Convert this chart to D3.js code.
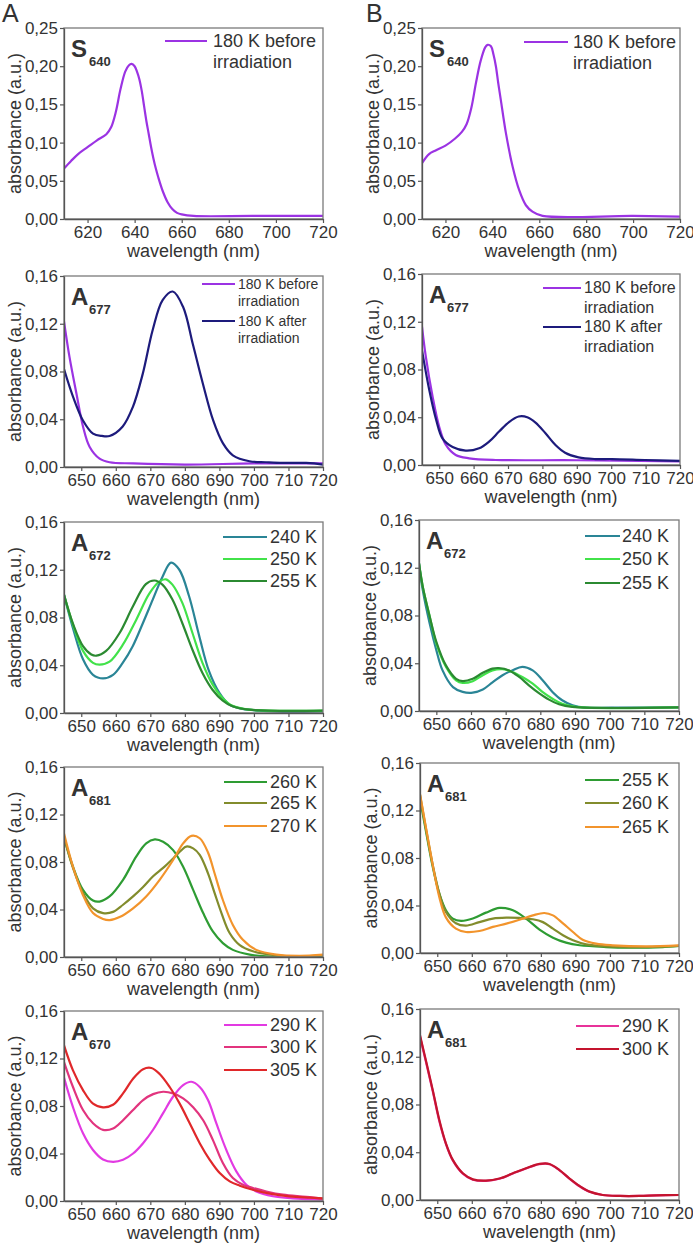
<!DOCTYPE html>
<html><head><meta charset="utf-8">
<script src="https://cdn.jsdelivr.net/npm/d3@7"></script>
<style>
body{margin:0;background:#fff}
svg{display:block}
text{font-family:"Liberation Sans",Arial,Helvetica,sans-serif;fill:#333}
</style>
</head><body>
<svg id="c" width="693" height="1247"></svg>
<script>
// ---------- tick values ----------
const xTicksRow1 = [620, 640, 660, 680, 700, 720];
const xTicksRest = [650, 660, 670, 680, 690, 700, 710, 720];
const yTicksRow1 = [0, 0.05, 0.10, 0.15, 0.20, 0.25];
const yTicksRest = [0, 0.04, 0.08, 0.12, 0.16];

// ---------- data: [wavelength nm, absorbance] ----------
// Column A
const A1_before = [[610,0.066],[613,0.076],[616,0.085],[620,0.094],[624,0.103],[628,0.111],[630,0.120],[632,0.140],[634,0.170],[636,0.193],[637.5,0.201],[638.7,0.203],[640,0.200],[641,0.193],[642,0.183],[643,0.168],[644,0.148],[645,0.128],[646,0.111],[647,0.094],[648,0.079],[649,0.066],[650,0.055],[652,0.036],[654,0.022],[656,0.013],[658,0.008],[660,0.006],[665,0.004],[690,0.004],[720,0.004]];
const A2_before = [[645,0.122],[646.6,0.092],[648.6,0.0615],[650.5,0.034],[652.4,0.017],[655.3,0.007],[658.2,0.004],[665,0.003],[680,0.002],[700,0.003],[720,0.003]];
const A2_after = [[645,0.082],[647.6,0.059],[650.5,0.039],[653.4,0.028],[656,0.026],[658.2,0.026],[662,0.034],[664.9,0.050],[667.8,0.078],[670.7,0.115],[673.6,0.140],[676.5,0.147],[679.5,0.134],[682.3,0.103],[685.2,0.070],[688.2,0.039],[691,0.020],[693.9,0.0098],[698.7,0.0048],[703.5,0.004],[708.4,0.0034],[715.1,0.0034],[720,0.002]];
const A3_240 = [[645,0.099],[647.7,0.070],[650.5,0.045],[653.4,0.032],[656.3,0.029],[659.2,0.032],[662,0.042],[664.9,0.056],[667.8,0.075],[670.7,0.095],[673.5,0.114],[676,0.126],[678.4,0.120],[681.2,0.098],[684.2,0.064],[687,0.035],[690,0.0168],[692.9,0.007],[696.7,0.0034],[701.5,0.002],[708.3,0.001],[720,0.0014]];
const A3_250 = [[645,0.099],[647.7,0.073],[650.5,0.052],[653.4,0.042],[655.3,0.0405],[658.2,0.043],[662,0.057],[665.9,0.078],[669.7,0.100],[672.6,0.110],[674.5,0.112],[676.4,0.1075],[679.3,0.092],[682.2,0.067],[685.1,0.042],[688,0.024],[690.9,0.0126],[693.8,0.006],[698.6,0.0028],[720,0.002]];
const A3_255 = [[645,0.099],[647.7,0.074],[650.5,0.056],[652.9,0.049],[654.4,0.048],[657.2,0.052],[661.1,0.067],[664.9,0.089],[668.7,0.108],[671.2,0.111],[673.5,0.1075],[676.4,0.095],[679.3,0.075],[682.2,0.053],[685.1,0.0335],[688,0.0195],[690.9,0.0106],[693.8,0.0056],[698.6,0.0028],[720,0.002]];
const A4_260 = [[645,0.101],[647.6,0.076],[650.5,0.0565],[653.4,0.0475],[655.3,0.0467],[658.2,0.051],[662.1,0.065],[665.9,0.0845],[668.8,0.0957],[671.3,0.099],[673.7,0.097],[676.6,0.090],[679.5,0.076],[682.4,0.0565],[685.3,0.037],[688.1,0.0215],[691,0.0117],[693.9,0.006],[698.8,0.002],[703.6,0.0006],[713.2,0.0002],[720,0.001]];
const A4_265 = [[645,0.101],[647.6,0.075],[650.5,0.054],[653.4,0.041],[656.3,0.037],[659.2,0.038],[662.1,0.044],[665,0.051],[667.9,0.059],[670.8,0.068],[673.7,0.075],[676.6,0.083],[679,0.090],[680.4,0.093],[682.4,0.0915],[684.3,0.086],[686.7,0.0705],[688.6,0.054],[690.6,0.037],[693,0.020],[695.9,0.010],[699.7,0.0048],[705.5,0.0017],[713.2,0.0006],[720,0.0014]];
const A4_270 = [[645,0.104],[647.6,0.076],[650.5,0.052],[653.4,0.037],[656.3,0.032],[658.2,0.031],[661.1,0.0336],[665,0.041],[668.8,0.051],[672.7,0.065],[676.6,0.0817],[679.5,0.0957],[681.9,0.102],[684.3,0.100],[686.7,0.088],[688.6,0.0705],[691,0.048],[693.9,0.027],[696.8,0.0145],[700.7,0.006],[706.5,0.002],[713.2,0.001],[720,0.002]];
const A5_290 = [[645,0.104],[647.6,0.079],[650.5,0.057],[653.4,0.043],[656.3,0.035],[659.2,0.033],[662.1,0.0347],[665,0.040],[667.9,0.0487],[670.8,0.060],[673.7,0.074],[676.6,0.088],[679.5,0.0976],[681.9,0.1004],[684.3,0.096],[686.7,0.085],[689.1,0.0655],[692,0.043],[694.9,0.025],[697.8,0.0137],[700.7,0.008],[705.5,0.004],[711.3,0.0022],[720,0.0011]];
const A5_300 = [[645,0.117],[647.6,0.096],[650.5,0.0766],[653.4,0.0655],[656.3,0.0599],[659.2,0.061],[662.1,0.068],[665,0.0766],[667.9,0.085],[670.8,0.090],[673.7,0.092],[676.6,0.0906],[679.5,0.0864],[682.4,0.079],[685.3,0.068],[688.1,0.0515],[691,0.032],[693.9,0.0193],[696.8,0.0137],[699.7,0.011],[703.6,0.008],[708.4,0.0053],[715.2,0.0034],[720,0.0017]];
const A5_305 = [[645,0.131],[647.6,0.110],[650.5,0.0934],[653.4,0.082],[656.3,0.0789],[659.2,0.081],[662.1,0.0906],[665,0.103],[667.9,0.111],[670.3,0.112],[672.7,0.107],[675.6,0.096],[678.5,0.082],[681.4,0.0655],[684.3,0.0487],[687.2,0.0347],[690.1,0.0235],[693,0.0165],[695.9,0.0129],[699.7,0.0095],[704.6,0.0062],[710.3,0.0039],[716.1,0.0028],[720,0.0022]];
// Column B
const B1_before = [[610,0.073],[613,0.085],[616,0.090],[620,0.096],[624,0.105],[627,0.114],[629,0.124],[631,0.145],[633,0.178],[635,0.207],[637,0.225],[638,0.228],[639.4,0.226],[640.5,0.215],[641.5,0.200],[642.5,0.178],[643.6,0.156],[645.8,0.112],[648.6,0.069],[651.4,0.038],[654.3,0.018],[657.1,0.0096],[661.4,0.004],[700,0.004],[720,0.003]];
const B2_before = [[645,0.116],[646.1,0.091],[648.1,0.057],[650,0.032],[651.9,0.017],[654.8,0.0084],[658.7,0.0056],[666.4,0.0042],[690,0.004],[720,0.003]];
const B2_after = [[645,0.096],[647.1,0.063],[649.1,0.038],[651,0.022],[653.9,0.015],[657.7,0.012],[661.6,0.014],[664.5,0.0196],[667.4,0.028],[670.3,0.036],[673.1,0.0406],[675.6,0.040],[678,0.0355],[680.9,0.0266],[683.8,0.0168],[686.6,0.0103],[690.5,0.0064],[695.3,0.005],[700.2,0.005],[709.8,0.0042],[720,0.0034]];
const B3_240 = [[645,0.1236],[646.1,0.101],[648.1,0.073],[650,0.051],[651.8,0.034],[654.8,0.020],[657.6,0.016],[660.5,0.0154],[663.4,0.018],[666.2,0.024],[669.1,0.030],[671.9,0.034],[674.8,0.037],[677.8,0.034],[680.6,0.026],[683.5,0.016],[686.3,0.009],[689.3,0.0048],[693.2,0.0028],[700.6,0.0028],[720,0.003]];
const B3_250 = [[645,0.1236],[646.1,0.104],[648.1,0.079],[650,0.0565],[652.8,0.037],[655.7,0.0257],[657.6,0.0235],[660.5,0.025],[663.4,0.030],[666.2,0.034],[669.1,0.035],[671.9,0.0327],[674.8,0.0285],[677.8,0.023],[680.6,0.016],[683.5,0.0103],[686.3,0.006],[690.2,0.0034],[720,0.003]];
const B3_255 = [[645,0.1236],[646.1,0.104],[648.1,0.079],[650,0.058],[652.8,0.038],[655.7,0.027],[657.6,0.025],[660.5,0.027],[663.4,0.032],[666.2,0.0355],[668,0.036],[671,0.034],[673.9,0.0285],[676.7,0.0215],[679.6,0.015],[682.5,0.0095],[685.4,0.0056],[689.2,0.0034],[720,0.003]];
const B4_255 = [[645,0.130],[646.7,0.103],[648.7,0.0724],[650.6,0.050],[652.5,0.036],[654.5,0.029],[656.9,0.027],[660.3,0.029],[664.1,0.034],[668,0.038],[671.9,0.036],[675.7,0.029],[679.6,0.0197],[683.5,0.0129],[687.3,0.0087],[691.2,0.0065],[698.9,0.005],[705.7,0.0045],[715.3,0.005],[720,0.006]];
const B4_260 = [[645,0.133],[646.7,0.105],[648.7,0.074],[650.6,0.050],[652.5,0.0345],[655.4,0.025],[658.3,0.023],[662.2,0.026],[666.1,0.029],[670,0.0298],[673.8,0.0295],[677.7,0.0284],[680.6,0.026],[683.5,0.0205],[686.4,0.015],[689.3,0.0107],[693.1,0.0073],[698.9,0.0056],[710.5,0.005],[720,0.006]];
const B4_265 = [[645,0.134],[646.7,0.106],[648.7,0.074],[650.6,0.047],[652.5,0.030],[655.4,0.0205],[658.3,0.0177],[662.2,0.0185],[666.1,0.022],[670,0.0247],[673.8,0.028],[677.7,0.0317],[681,0.0337],[683.5,0.0317],[686.4,0.025],[689.3,0.0177],[692.1,0.0112],[696,0.0079],[700.8,0.0065],[710.5,0.0056],[720,0.0065]];
const B5_290 = [[645,0.137],[646.7,0.116],[648.7,0.091],[650.6,0.066],[652.5,0.047],[654.5,0.0332],[657.4,0.0221],[660.3,0.0170],[664.1,0.0160],[668,0.0178],[671.9,0.0222],[675.7,0.0264],[679.6,0.0300],[682.5,0.0300],[685.4,0.0248],[688.3,0.0178],[691.2,0.0115],[694.1,0.0069],[697.9,0.0042],[702.8,0.0034],[708.6,0.0034],[713.4,0.0039],[720,0.0042]];
const B5_300 = [[645,0.138],[646.7,0.117],[648.7,0.092],[650.6,0.067],[652.5,0.0475],[654.5,0.0336],[657.4,0.0224],[660.3,0.0173],[664.1,0.0162],[668,0.018],[671.9,0.0224],[675.7,0.0266],[679.6,0.0302],[682.5,0.0302],[685.4,0.025],[688.3,0.018],[691.2,0.0117],[694.1,0.007],[697.9,0.0042],[702.8,0.0034],[708.6,0.0034],[713.4,0.0039],[720,0.0042]];

// ---------- series names ----------
const nameBefore = ["180 K before", "irradiation"];
const nameAfter = ["180 K after", "irradiation"];

// ---------- panel layout ----------
const C = {
  violet:"#9b33e3", navy:"#1d1b7c", teal:"#2a8596", lime:"#42e24a", dkgreen:"#2b8a31",
  green:"#2e9c33", olive:"#828c2c", orange:"#f2942c", magenta:"#e23ae2", pink:"#e2347e",
  red:"#e0282a", pink2:"#e8329a", dkred:"#c4142e"
};

const panels = [
 {box:[64,28,323,219], xDom:[610,720], xT:xTicksRow1, yDom:[0,0.25], yT:yTicksRow1, lab:"S", sub:"640",
  series:[{d:A1_before,c:C.violet}],
  leg:{x1:165,x2:207,tx:213,fs:18,gap:21,items:[{y:41,t:nameBefore,c:C.violet}]}},
 {box:[422,28,680,219], xDom:[610,720], xT:xTicksRow1, yDom:[0,0.25], yT:yTicksRow1, lab:"S", sub:"640",
  series:[{d:B1_before,c:C.violet}],
  leg:{x1:524,x2:568,tx:573,fs:18,gap:21,items:[{y:42,t:nameBefore,c:C.violet}]}},
 {box:[64,276,323,467], xDom:[645,720], xT:xTicksRest, yDom:[0,0.16], yT:yTicksRest, lab:"A", sub:"677",
  series:[{d:A2_before,c:C.violet},{d:A2_after,c:C.navy}],
  leg:{x1:202,x2:235,tx:238,fs:14,gap:17,items:[{y:284,t:nameBefore,c:C.violet},{y:321,t:nameAfter,c:C.navy}]}},
 {box:[422,274,680,465], xDom:[645,720], xT:xTicksRest, yDom:[0,0.16], yT:yTicksRest, lab:"A", sub:"677",
  series:[{d:B2_before,c:C.violet},{d:B2_after,c:C.navy}],
  leg:{x1:543,x2:581,tx:584,fs:16,gap:20,items:[{y:288,t:nameBefore,c:C.violet},{y:327,t:nameAfter,c:C.navy}]}},
 {box:[64,522,323,713], xDom:[645,720], xT:xTicksRest, yDom:[0,0.16], yT:yTicksRest, lab:"A", sub:"672",
  series:[{d:A3_240,c:C.teal},{d:A3_250,c:C.lime},{d:A3_255,c:C.dkgreen}],
  leg:{x1:223,x2:267,tx:270,fs:18,gap:21,items:[{y:537,t:["240 K"],c:C.teal},{y:559,t:["250 K"],c:C.lime},{y:581,t:["255 K"],c:C.dkgreen}]}},
 {box:[419,520,679,711], xDom:[645,720], xT:xTicksRest, yDom:[0,0.16], yT:yTicksRest, lab:"A", sub:"672",
  series:[{d:B3_240,c:C.teal},{d:B3_250,c:C.lime},{d:B3_255,c:C.dkgreen}],
  leg:{x1:585,x2:620,tx:622,fs:18,gap:21,items:[{y:536,t:["240 K"],c:C.teal},{y:559,t:["250 K"],c:C.lime},{y:583,t:["255 K"],c:C.dkgreen}]}},
 {box:[64,767,323,957], xDom:[645,720], xT:xTicksRest, yDom:[0,0.16], yT:yTicksRest, lab:"A", sub:"681",
  series:[{d:A4_260,c:C.green},{d:A4_265,c:C.olive},{d:A4_270,c:C.orange}],
  leg:{x1:224,x2:267,tx:270,fs:18,gap:21,items:[{y:782,t:["260 K"],c:C.green},{y:803,t:["265 K"],c:C.olive},{y:826,t:["270 K"],c:C.orange}]}},
 {box:[420,763,679,953], xDom:[645,720], xT:xTicksRest, yDom:[0,0.16], yT:yTicksRest, lab:"A", sub:"681",
  series:[{d:B4_255,c:C.green},{d:B4_260,c:C.olive},{d:B4_265,c:C.orange}],
  leg:{x1:585,x2:619,tx:622,fs:18,gap:21,items:[{y:780,t:["255 K"],c:C.green},{y:803,t:["260 K"],c:C.olive},{y:827,t:["265 K"],c:C.orange}]}},
 {box:[64,1011,323,1201], xDom:[645,720], xT:xTicksRest, yDom:[0,0.16], yT:yTicksRest, lab:"A", sub:"670",
  series:[{d:A5_290,c:C.magenta},{d:A5_300,c:C.pink},{d:A5_305,c:C.red}],
  leg:{x1:224,x2:267,tx:270,fs:18,gap:21,items:[{y:1025,t:["290 K"],c:C.magenta},{y:1047,t:["300 K"],c:C.pink},{y:1070,t:["305 K"],c:C.red}]}},
 {box:[420,1009,679,1200], xDom:[645,720], xT:xTicksRest, yDom:[0,0.16], yT:yTicksRest, lab:"A", sub:"681",
  series:[{d:B5_290,c:C.pink2},{d:B5_300,c:C.dkred}],
  leg:{x1:576,x2:619,tx:622,fs:18,gap:21,items:[{y:1026,t:["290 K"],c:C.pink2},{y:1049,t:["300 K"],c:C.dkred}]}}
];

const svg = d3.select("#c");
const fmt = v => d3.format(".2f")(v).replace(".", ",");

svg.append("text").attr("x",2).attr("y",22).attr("font-size",25).text("A");
svg.append("text").attr("x",366).attr("y",22).attr("font-size",25).text("B");

panels.forEach((p, i) => {
  const [L, T, R, Bm] = p.box;
  const x = d3.scaleLinear().domain(p.xDom).range([L, R]);
  const y = d3.scaleLinear().domain(p.yDom).range([Bm, T]);
  const g = svg.append("g");
  const clipId = "clip" + i;
  svg.append("clipPath").attr("id", clipId).append("rect")
    .attr("x", L).attr("y", T - 1).attr("width", R - L).attr("height", Bm - T + 1);

  // lines
  const line = d3.line().x(d => x(d[0])).y(d => y(d[1])).curve(d3.curveCatmullRom.alpha(0.5));
  p.series.forEach(s => {
    g.append("path").attr("d", line(s.d)).attr("fill", "none")
      .attr("stroke", s.c).attr("stroke-width", 2.2).attr("stroke-linejoin","round")
      .attr("clip-path", `url(#${clipId})`);
  });

  // frame
  g.append("rect").attr("x", L).attr("y", T).attr("width", R - L).attr("height", Bm - T)
    .attr("fill", "none").attr("stroke", "#7a7a7a").attr("stroke-width", 1.3);

  // axes
  const xa = g.append("g").attr("transform", `translate(0,${Bm})`)
    .call(d3.axisBottom(x).tickValues(p.xT).tickSize(4).tickSizeOuter(0).tickPadding(3).tickFormat(d3.format("d")));
  const ya = g.append("g").attr("transform", `translate(${L},0)`)
    .call(d3.axisLeft(y).tickValues(p.yT).tickSize(4).tickSizeOuter(0).tickPadding(2).tickFormat(fmt));
  [xa, ya].forEach(a => {
    a.select(".domain").attr("stroke", "#555").attr("stroke-width", 1.3);
    a.selectAll(".tick line").attr("stroke", "#555").attr("stroke-width", 1.2);
    a.selectAll(".tick text").attr("font-size", 17).attr("fill", "#333")
      .attr("font-family", '"Liberation Sans",Arial,sans-serif');
  });

  // axis titles
  g.append("text").attr("x", (L + R) / 2).attr("y", Bm + 38).attr("text-anchor", "middle")
    .attr("font-size", 18).text("wavelength (nm)");
  g.append("text").attr("transform", `translate(${L - 43},${(T + Bm) / 2}) rotate(-90)`)
    .attr("text-anchor", "middle").attr("font-size", 18).text("absorbance (a.u.)");

  // panel label
  g.append("text").attr("x", L + 7).attr("y", T + 29).attr("font-weight", "bold").attr("font-size", 24).attr("fill","#111").text(p.lab);
  g.append("text").attr("x", L + 25).attr("y", T + 38).attr("font-weight", "bold").attr("font-size", 13).attr("fill","#111").text(p.sub);

  // legend
  const lg = p.leg;
  lg.items.forEach(it => {
    g.append("line").attr("x1", lg.x1).attr("x2", lg.x2).attr("y1", it.y).attr("y2", it.y)
      .attr("stroke", it.c).attr("stroke-width", 2.2);
    it.t.forEach((s, k) => {
      g.append("text").attr("x", lg.tx).attr("y", it.y + lg.fs * 0.34 + k * lg.gap)
        .attr("font-size", lg.fs).text(s);
    });
  });
});
</script>
</body></html>
